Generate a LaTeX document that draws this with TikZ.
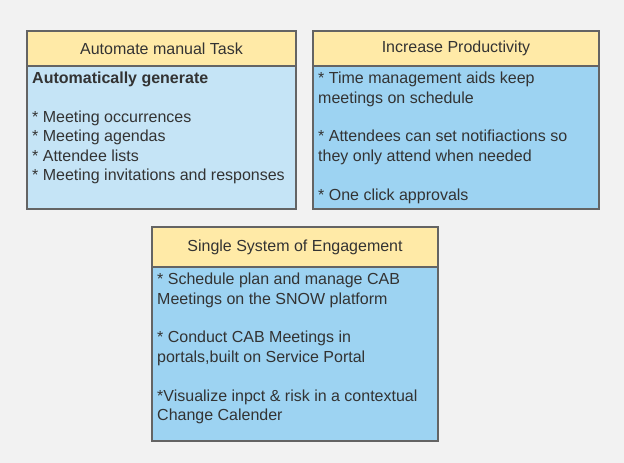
\documentclass[tikz,border=0pt]{standalone}
\usepackage{fontspec}
\setmainfont{Liberation Sans}
\usetikzlibrary{positioning}
\definecolor{bgcol}{HTML}{F2F2F2}
\definecolor{headcol}{HTML}{FFEAA7}
\definecolor{palecol}{HTML}{C5E4F6}
\definecolor{skycol}{HTML}{9DD3F2}
\definecolor{edgecol}{HTML}{646464}
\definecolor{inkcol}{HTML}{333333}
\tikzset{
  header/.style = {rectangle, draw=edgecol, line width=1.5pt, fill=headcol, outer sep=0pt,
    anchor=north west, minimum height=35pt, text=inkcol, font=\fontsize{16}{19.4}\selectfont},
  panel/.style = {rectangle, draw=edgecol, line width=1.5pt, fill=skycol, outer sep=0pt},
  bullets/.style = {anchor=north west, inner sep=0pt, align=left, text=inkcol,
    font=\fontsize{16}{19.4}\selectfont}
}
\begin{document}
\begin{tikzpicture}[x=1pt, y=-1pt]

\fill[bgcol] (0,0) rectangle (624,463);
\useasboundingbox (0,0) rectangle (624,463);

% top left
\node[header, minimum width=269pt] (autohead) at (27,31) {Automate manual Task};
\node[panel, fill=palecol, below=0pt of autohead, minimum width=269pt, minimum height=143pt] (autobody) {};
\node[bullets] (autotext) at ([shift={(5pt,-6pt)}]autobody.north west)
  {\textbf{Automatically generate}\\[19.4pt]
   * Meeting occurrences\\
   * Meeting agendas\\
   * Attendee lists\\
   * Meeting invitations and responses};

% top right
\node[header, minimum width=286pt] (prodhead) at (313,31) {Increase Productivity};
\node[panel, below=0pt of prodhead, minimum width=286pt, minimum height=143pt] (prodbody) {};
\node[bullets] (prodtext) at ([shift={(5pt,-6pt)}]prodbody.north west)
  {* Time management aids keep\\
   meetings on schedule\\[19.4pt]
   * Attendees can set notifiactions so\\
   they only attend when needed\\[19.4pt]
   * One click approvals};

% bottom
\node[header, minimum width=286pt, minimum height=40pt] (singhead) at (152,227) {Single System of Engagement};
\node[panel, below=0pt of singhead, minimum width=286pt, minimum height=174pt] (singbody) {};
\node[bullets] (singtext) at ([shift={(5pt,-6pt)}]singbody.north west)
  {* Schedule plan and manage CAB\\
   Meetings on the SNOW platform\\[19.4pt]
   * Conduct CAB Meetings in\\
   portals,built on Service Portal\\[19.4pt]
   *Visualize inpct \& risk in a contextual\\
   Change Calender};

\end{tikzpicture}
\end{document}
